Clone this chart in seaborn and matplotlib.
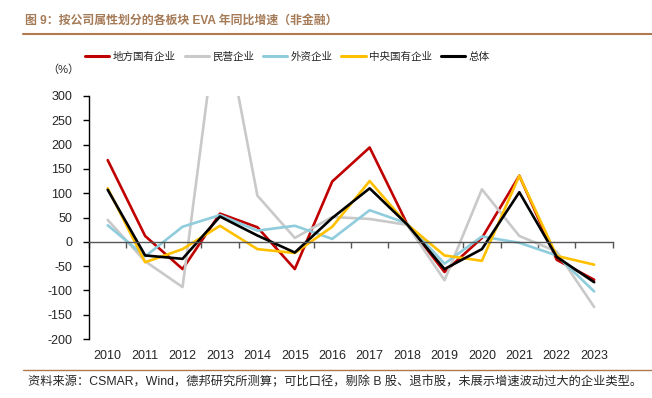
import matplotlib
matplotlib.use("Agg")
import matplotlib.pyplot as plt
from matplotlib.lines import Line2D
import pandas as pd
import seaborn as sns

years = list(range(2010, 2024))
series_names = ["地方国有企业", "民营企业", "外资企业", "中央国有企业", "总体"]
local_soe = [168, 12, -56, 58, 30, -56, 124, 194, 37, -62, 8, 136, -37, -78]
private = [45, -40, -93, 500, 95, 8, 51, 47, 35, -79, 108, 12, -20, -134]
foreign = [34, -30, 31, 55, 23, 33, 6, 65, 38, -45, 11, -2, -28, -102]
central_soe = [110, -42, -15, 33, -15, -23, 31, 125, 36, -28, -39, 136, -29, -47]
overall = [107, -28, -35, 52, 13, -22, 49, 110, 36, -56, -15, 102, -31, -83]
palette = ["#C00000", "#C9C9C9", "#8FCCDC", "#FFC000", "#000000"]
y_ticks = [300, 250, 200, 150, 100, 50, 0, -50, -100, -150, -200]

title_text = "图 9：按公司属性划分的各板块 EVA 年同比增速（非金融）"
source_text = ("资料来源：CSMAR，Wind，德邦研究所测算；可比口径，剔除 B 股、退市股，"
               "未展示增速波动过大的企业类型。")

df = pd.DataFrame({
    "idx": list(range(len(years))) * 5,
    "series": sum([[n] * len(years) for n in series_names], []),
    "value": local_soe + private + foreign + central_soe + overall,
})

sns.set_theme(style="white")
plt.rcParams["font.family"] = ["Liberation Sans", "Noto Sans CJK SC", "DejaVu Sans"]

fig = plt.figure(figsize=(6.52, 3.98), dpi=100)
ax = fig.add_axes([0.1365, 0.148, 0.8035, 0.611])

sns.lineplot(data=df, x="idx", y="value", hue="series", hue_order=series_names,
             palette=palette, linewidth=1.9, legend=False, ax=ax)

ax.set_xlim(-0.5, len(years) - 0.5)
ax.set_ylim(-200, 300)
ax.set_yticks(y_ticks)
ax.set_yticklabels([str(t) for t in y_ticks], fontsize=9)
ax.set_xlabel("")
ax.set_ylabel("")

for side in ["top", "right"]:
    ax.spines[side].set_visible(False)
ax.spines["left"].set_color("black")
ax.spines["left"].set_linewidth(1.0)
ax.spines["bottom"].set_position(("data", 0))
ax.spines["bottom"].set_color("#555555")
ax.spines["bottom"].set_linewidth(1.0)
ax.tick_params(axis="y", direction="out", length=4, width=1, color="black", pad=8, left=True)
ax.set_xticks([i - 0.5 for i in range(len(years) + 1)])
ax.tick_params(axis="x", direction="out", length=4, width=1, color="#555555", labelbottom=False, bottom=True)

sec = ax.secondary_xaxis(0.0)
sec.set_xticks(range(len(years)))
sec.set_xticklabels([str(y) for y in years], fontsize=9)
sec.tick_params(length=0, pad=8)
sec.spines["bottom"].set_visible(False)

handles = [Line2D([0], [0], color=c, lw=2.2) for c in palette]
fig.legend(handles, series_names, loc="center", bbox_to_anchor=(0.441, 0.857), ncol=5,
           frameon=False, fontsize=7.6, handlelength=2.3, columnspacing=0.8, handletextpad=0.35)

fig.text(0.072, 0.824, "（%）", fontsize=8, ha="left", va="center")

brown = "#A57A57"
fig.text(0.038, 0.948, title_text, fontsize=8.6, fontweight="bold", color=brown, ha="left", va="center")
fig.add_artist(Line2D([0.035, 1.0], [0.9146, 0.9146], color="#B07A50", lw=1.5, transform=fig.transFigure))
fig.add_artist(Line2D([0.035, 1.0], [0.0704, 0.0704], color="#B07A50", lw=1.0, transform=fig.transFigure))
fig.text(0.043, 0.040, source_text, fontsize=8.8, ha="left", va="center")

fig.savefig("out.png", dpi=100)
plt.close(fig)
